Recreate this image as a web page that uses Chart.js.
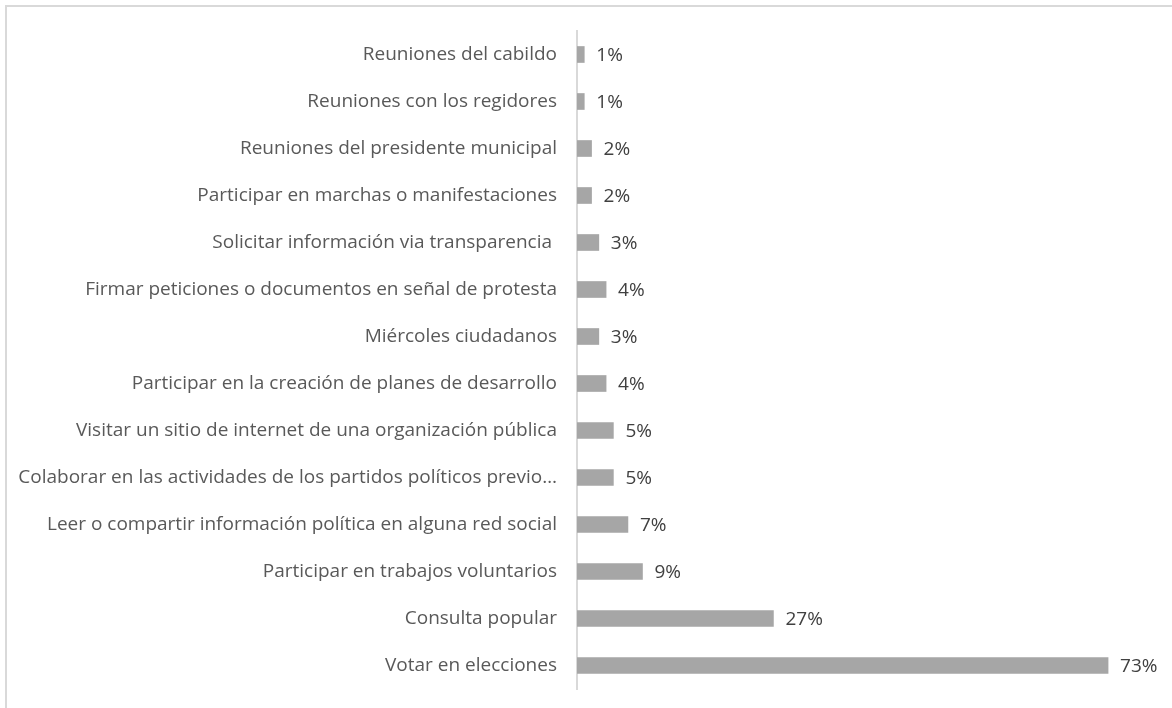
<!DOCTYPE html>
<html>
<head>
<meta charset="utf-8">
<script src="https://cdn.jsdelivr.net/npm/chart.js@4.4.1/dist/chart.umd.min.js"></script>
<style>
  html, body { margin: 0; padding: 0; background: #fff; overflow: hidden; }
  #wrap { position: absolute; left: 0; top: 0; width: 1172px; height: 708px; }
  #frame { position: absolute; left: 5px; top: 5px; width: 1200px; height: 740px; border: 2px solid #d9d9d9; box-sizing: border-box; pointer-events: none; }
</style>
</head>
<body>
<div id="wrap"><canvas id="c" width="1172" height="708"></canvas></div>
<div id="frame"></div>
<script>
const categories = [
  "Reuniones del cabildo",
  "Reuniones con los regidores",
  "Reuniones del presidente municipal",
  "Participar en marchas o manifestaciones",
  "Solicitar información via transparencia ",
  "Firmar peticiones o documentos en señal de protesta",
  "Miércoles ciudadanos",
  "Participar en la creación de planes de desarrollo",
  "Visitar un sitio de internet de una organización pública",
  "Colaborar en las actividades de los partidos políticos previo…",
  "Leer o compartir información política en alguna red social",
  "Participar en trabajos voluntarios",
  "Consulta popular",
  "Votar en elecciones"
];
const values = [1, 1, 2, 2, 3, 4, 3, 4, 5, 5, 7, 9, 27, 73];
const valueLabels = ["1%", "1%", "2%", "2%", "3%", "4%", "3%", "4%", "5%", "5%", "7%", "9%", "27%", "73%"];

const FONT = "'Open Sans', Lato, sans-serif";

const dataLabelPlugin = {
  id: 'dataLabels',
  afterDatasetsDraw(chart) {
    const ctx = chart.ctx;
    const meta = chart.getDatasetMeta(0);
    ctx.save();
    ctx.font = "19px " + FONT;
    ctx.fillStyle = "#404040";
    ctx.textAlign = "left";
    ctx.textBaseline = "middle";
    meta.data.forEach((bar, i) => {
      ctx.fillText(valueLabels[i], bar.x + 12, bar.y + 1);
    });
    ctx.restore();
  }
};

new Chart(document.getElementById('c'), {
  type: 'bar',
  data: {
    labels: categories,
    datasets: [{
      data: values,
      backgroundColor: '#a6a6a6',
      borderWidth: 0,
      barThickness: 16
    }]
  },
  options: {
    indexAxis: 'y',
    responsive: false,
    animation: false,
    devicePixelRatio: 1,
    layout: { padding: { left: 0, right: 13, top: 31, bottom: 19 } },
    plugins: { legend: { display: false }, tooltip: { enabled: false } },
    scales: {
      x: {
        display: false,
        min: 0,
        max: 80
      },
      y: {
        afterFit(scale) {
          scale.width = 577;
          scale.paddingTop = 0;
          scale.paddingBottom = 0;
        },
        grid: { display: true, drawOnChartArea: false, drawTicks: false },
        border: { display: true, color: '#d9d9d9', width: 2 },
        ticks: {
          padding: 20,
          color: '#595959',
          font: { family: FONT, size: 19 }
        }
      }
    }
  },
  plugins: [dataLabelPlugin]
});
</script>
</body>
</html>
